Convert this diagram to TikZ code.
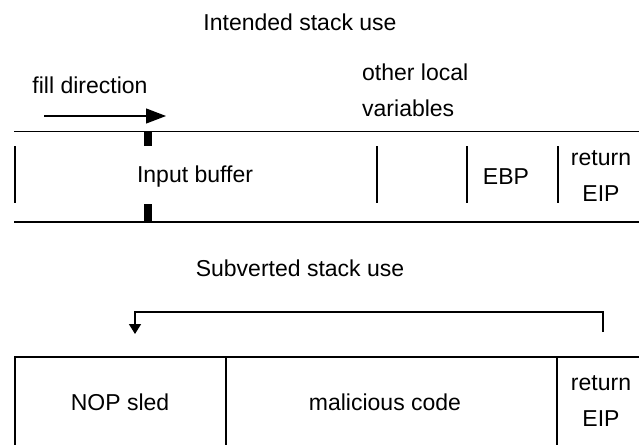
\documentclass[tikz,border=0pt]{standalone}
\usepackage{fontspec}
\setmainfont{Liberation Sans}
\usetikzlibrary{arrows.meta,positioning}

\begin{document}
\begin{tikzpicture}[x=1pt, y=-1pt,
  every node/.style = {font=\fontsize{23}{36}\selectfont, inner sep=0pt},
  cellwall/.style = {line width=2pt},
  marker/.style = {line width=8pt}]

  \useasboundingbox (0,0) rectangle (639,444);

  % intended use
  \node (title1) at (300,22) {Intended stack use};
  \node (fill) at (90,85) {fill direction};
  \node[anchor=west, align=left] (locals) at (362,90) {other local\\variables};
  \coordinate (fs) at (44,116);
  \coordinate (fe) at (166,116);
  \draw[line width=1.2pt, -{Triangle[length=20pt,width=15pt]}] (fs)--(fe);

  \draw[line width=1pt] (14,131)--(639,131);
  \draw[line width=2.2pt] (14,222)--(639,222);
  \draw[marker] (148,131)--(148,146) (148,204)--(148,222);
  \foreach \x in {15,377,467,558}
    \draw[cellwall] (\x,146)--(\x,203);

  \node (input) at (195,177) {Input buffer};
  \node (ebp) at (506,177) {EBP};
  \node[align=center] (ret1) at (601,176) {return\\EIP};

  % subverted use
  \node (title2) at (300,268) {Subverted stack use};
  \draw[cellwall] (15,446)--(15,357)--(639,357) (226,357)--(226,446) (557,357)--(557,446);
  \node (nop) at (120,402) {NOP sled};
  \node (mal) at (385,402) {malicious code};
  \node[align=center] (ret2) at (601,401) {return\\EIP};

  \coordinate (rs) at (603,332);
  \coordinate (re) at (135,334);
  \draw[line width=1.5pt, -{Triangle[length=10pt,width=12pt]}] (rs)--(603,312)--(135,312)--(re);
\end{tikzpicture}
\end{document}
